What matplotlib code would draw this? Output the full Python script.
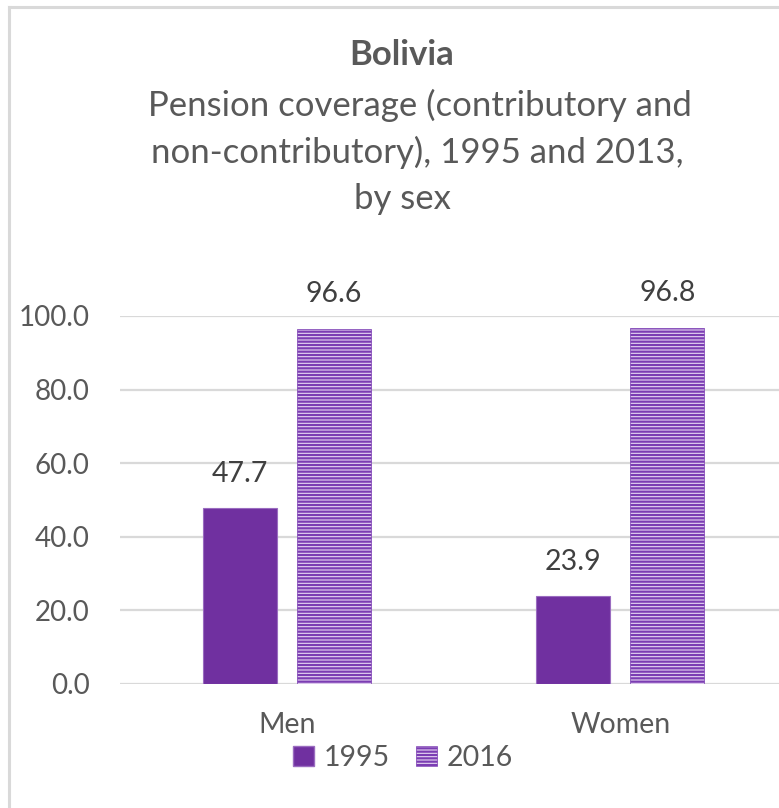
import matplotlib.pyplot as plt
import matplotlib as mpl
from matplotlib.lines import Line2D
from matplotlib.patches import Patch
import numpy as np

# data
categories = ["Men", "Women"]
values_1995 = [47.7, 23.9]
values_2016 = [96.6, 96.8]
series_names = ["1995", "2016"]
yticks = [0, 20, 40, 60, 80, 100]

W, H = 779, 808
purple = "#7030a0"
grey_txt = "#595959"
grid_c = "#d9d9d9"
hatch_bg = "#e6d6f2"
hatch_c = "#7b3db3"

plt.rcParams['font.family'] = ['Lato', 'DejaVu Sans']
mpl.rcParams['hatch.linewidth'] = 1.6

fig = plt.figure(figsize=(W / 100, H / 100), dpi=100)
ax = fig.add_axes([120 / W, (H - 684) / H, 667 / W, 368 / H])

x = np.arange(len(categories))
bw = 0.222
off = 0.141
ax.bar(x - off, values_1995, bw, color=purple, edgecolor="#9a6cc0", linewidth=0.8, zorder=3)
ax.bar(x + off, values_2016, bw, color=hatch_bg, edgecolor=hatch_c, linewidth=0.5,
       hatch="-----", zorder=3)

# data labels
for xi, v in list(zip(x - off, values_1995)) + list(zip(x + off, values_2016)):
    ax.annotate(f"{v:.1f}", (xi, v), xytext=(0, 19), textcoords="offset points",
                ha="center", va="baseline", fontsize=20.5, color="#404040")

ax.set_xlim(-0.5, 1.5)
ax.set_ylim(0, 100)
ax.set_yticks(yticks)
ax.set_yticklabels([f"{t:.1f}" for t in yticks], fontsize=20, color=grey_txt)
ax.set_xticks(x)
ax.set_xticklabels(categories, fontsize=20.5, color=grey_txt)
ax.tick_params(length=0, pad=22, axis="y")
ax.tick_params(length=0, pad=20, axis="x")
ax.grid(axis="y", color=grid_c, linewidth=1.6, zorder=0)
ax.set_axisbelow(True)
for s in ax.spines.values():
    s.set_visible(False)

# titles
fig.text(402 / W, 1 - 55 / H, "Bolivia", ha="center", va="center", fontsize=25,
         fontweight="bold", color=grey_txt)
sub = ["Pension coverage (contributory and", "non-contributory), 1995 and 2013,", "by sex"]
sub_x = [420, 417, 402]
for i, line in enumerate(sub):
    fig.text(sub_x[i] / W, 1 - (105 + 47 * i) / H, line, ha="center",
             va="center", fontsize=25, color=grey_txt)

# legend
handles = [Patch(facecolor=purple, edgecolor="#9a6cc0"),
           Patch(facecolor=hatch_bg, edgecolor=hatch_c, linewidth=0.5, hatch="-----")]
fig.legend(handles, series_names, loc="center", bbox_to_anchor=(403 / W, 1 - 758 / H),
           ncol=2, frameon=False, fontsize=20.5, labelcolor=grey_txt, handlelength=0.75,
           handleheight=0.75, handletextpad=0.35, columnspacing=0.9)

# outer border (left and top only visible)
fig.add_artist(Line2D([9 / W, 9 / W], [0, 1 - 7 / H], color=grid_c, linewidth=2.2,
                      transform=fig.transFigure))
fig.add_artist(Line2D([9 / W, 1], [1 - 7 / H, 1 - 7 / H], color=grid_c, linewidth=2.2,
                      transform=fig.transFigure))

fig.savefig("out.png", dpi=100)
